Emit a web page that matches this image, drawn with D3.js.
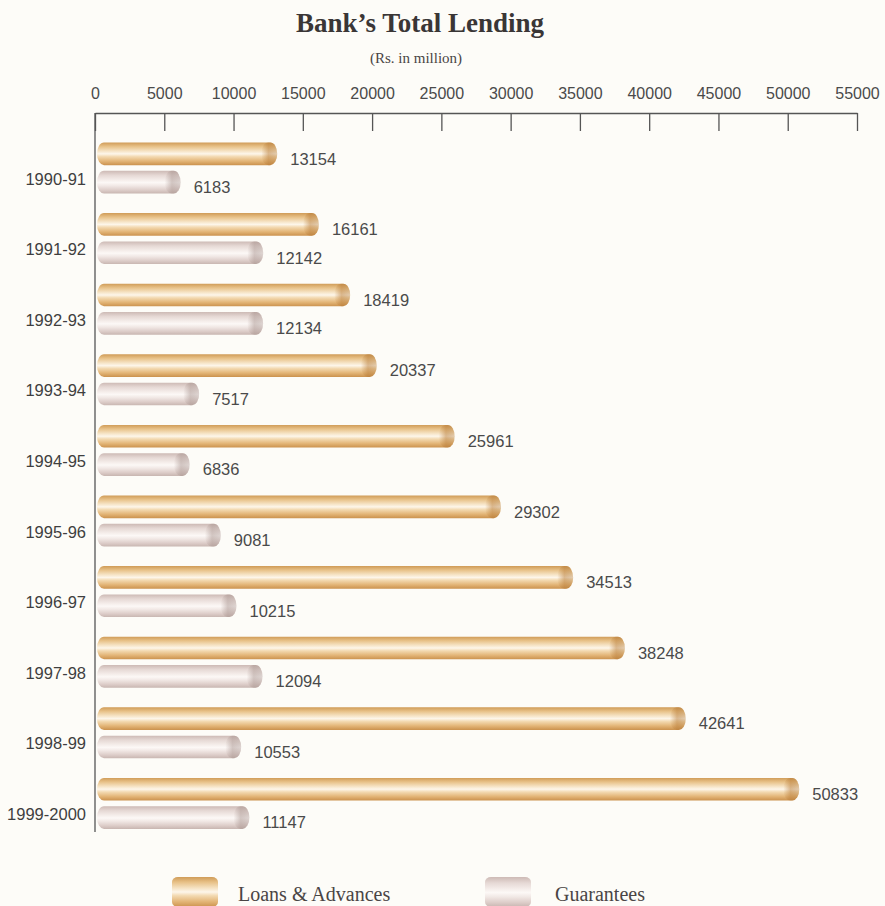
<!DOCTYPE html>
<html>
<head>
<meta charset="utf-8">
<script src="https://cdn.jsdelivr.net/npm/d3@7"></script>
<style>
  html, body { margin: 0; padding: 0; background: #fdfcf8; }
  svg { display: block; }
</style>
</head>
<body>
<svg id="chart" width="885" height="906"></svg>
<script>
const categories = ["1990-91","1991-92","1992-93","1993-94","1994-95","1995-96","1996-97","1997-98","1998-99","1999-2000"];
const loans = [13154, 16161, 18419, 20337, 25961, 29302, 34513, 38248, 42641, 50833];
const guarantees = [6183, 12142, 12134, 7517, 6836, 9081, 10215, 12094, 10553, 11147];
const tickValues = [0,5000,10000,15000,20000,25000,30000,35000,40000,45000,50000,55000];
const seriesNames = ["Loans & Advances", "Guarantees"];

const svg = d3.select("#chart");
svg.append("rect").attr("width", 885).attr("height", 906).attr("fill", "#fdfcf8");

const defs = svg.append("defs");
function vGrad(id, stops) {
  const g = defs.append("linearGradient").attr("id", id).attr("x1", 0).attr("y1", 0).attr("x2", 0).attr("y2", 1);
  stops.forEach(s => g.append("stop").attr("offset", s[0]).attr("stop-color", s[1]));
}
function hGrad(id, stops) {
  const g = defs.append("linearGradient").attr("id", id).attr("x1", 0).attr("y1", 0).attr("x2", 1).attr("y2", 0);
  stops.forEach(s => g.append("stop").attr("offset", s[0]).attr("stop-color", s[1]).attr("stop-opacity", s[2]));
}
vGrad("gLoans", [[0,"#d09c58"],[0.18,"#e8c289"],[0.38,"#f6e4c6"],[0.5,"#fdf6ea"],[0.62,"#f3dab2"],[0.82,"#e3b577"],[1,"#cb924e"]]);
vGrad("gGuar", [[0,"#cdbab5"],[0.2,"#e6d9d5"],[0.42,"#f6efec"],[0.52,"#fcf8f6"],[0.66,"#f1e8e5"],[0.85,"#ddcdc9"],[1,"#c8b6b1"]]);
hGrad("capLoans", [[0,"#b77a36",0],[0.45,"#b77a36",0.5],[1,"#a86d2c",0.3]]);
hGrad("capGuar", [[0,"#a8948f",0],[0.45,"#a8948f",0.5],[1,"#9a8681",0.3]]);

const x = d3.scaleLinear().domain([0, 55000]).range([95, 857]);
const y = d3.scaleBand().domain(categories).range([139.5, 845.5]).padding(0);
const ySub = d3.scaleBand().domain(["loans","guar"]).range([3, 54]).paddingInner(0.2);

// Title
svg.append("text").attr("x", 420).attr("y", 32).attr("text-anchor", "middle")
  .attr("font-family", "'Liberation Serif', 'Times New Roman', serif")
  .attr("font-weight", "bold").attr("font-size", 27).attr("fill", "#3a3636")
  .text("Bank\u2019s Total Lending");
svg.append("text").attr("x", 416).attr("y", 63).attr("text-anchor", "middle")
  .attr("font-family", "'Liberation Serif', 'Times New Roman', serif")
  .attr("font-size", 15).attr("fill", "#4a4545")
  .text("(Rs. in million)");

// Top axis
const axis = d3.axisTop(x).tickValues(tickValues).tickSizeInner(-18).tickSizeOuter(0).tickPadding(14)
  .tickFormat(d3.format("d"));
const ax = svg.append("g").attr("transform", "translate(0,113)").call(axis);
ax.select(".domain").attr("stroke", "#555").attr("stroke-width", 1.3);
ax.selectAll(".tick line").attr("stroke", "#555").attr("stroke-width", 1.3);
ax.selectAll(".tick text").attr("font-family", "'Liberation Sans', Arial, sans-serif")
  .attr("font-size", 16).attr("fill", "#4a4a4a");

// Left axis line
svg.append("line").attr("x1", x(0)).attr("x2", x(0)).attr("y1", 113).attr("y2", 832)
  .attr("stroke", "#555").attr("stroke-width", 1.3);

// Bars
const rows = categories.map((c, i) => ({cat: c, loans: loans[i], guar: guarantees[i]}));
const bh = ySub.bandwidth();
function drawBar(g, key, val, fill, cap) {
  const by = ySub(key);
  const x0 = x(0) + 2, x1 = x(val);
  g.append("rect").attr("x", x0).attr("y", by).attr("width", x1 - x0).attr("height", bh)
    .attr("rx", 7).attr("ry", bh / 2).attr("fill", fill);
  g.append("rect").attr("x", x1 - 16).attr("y", by).attr("width", 16).attr("height", bh)
    .attr("rx", 7).attr("ry", bh / 2).attr("fill", cap);
  g.append("text").attr("x", x1 + 13).attr("y", by + bh - 0.5)
    .attr("font-family", "'Liberation Sans', Arial, sans-serif").attr("font-size", 16.5)
    .attr("fill", "#4a4a4a").text(val);
}
const groups = svg.selectAll("g.row").data(rows).join("g").attr("class", "row")
  .attr("transform", d => `translate(0,${y(d.cat)})`);
groups.each(function(d) {
  const g = d3.select(this);
  drawBar(g, "loans", d.loans, "url(#gLoans)", "url(#capLoans)");
  drawBar(g, "guar", d.guar, "url(#gGuar)", "url(#capGuar)");
  g.append("text").attr("x", x(0) - 9).attr("y", 45).attr("text-anchor", "end")
    .attr("font-family", "'Liberation Sans', Arial, sans-serif").attr("font-size", 16.5)
    .attr("fill", "#3f3f3f").text(d.cat);
});

// Legend
const legend = [
  {name: seriesNames[0], fill: "url(#gLoans)", sx: 172, tx: 238},
  {name: seriesNames[1], fill: "url(#gGuar)", sx: 485, tx: 555}
];
const lg = svg.selectAll("g.leg").data(legend).join("g").attr("class", "leg");
lg.append("rect").attr("x", d => d.sx).attr("y", 877).attr("width", 46).attr("height", 30)
  .attr("rx", 6).attr("ry", 5).attr("fill", d => d.fill);
lg.append("text").attr("x", d => d.tx).attr("y", 901)
  .attr("font-family", "'Liberation Serif', 'Times New Roman', serif")
  .attr("font-size", 20).attr("fill", "#4a4545").text(d => d.name);
</script>
</body>
</html>
